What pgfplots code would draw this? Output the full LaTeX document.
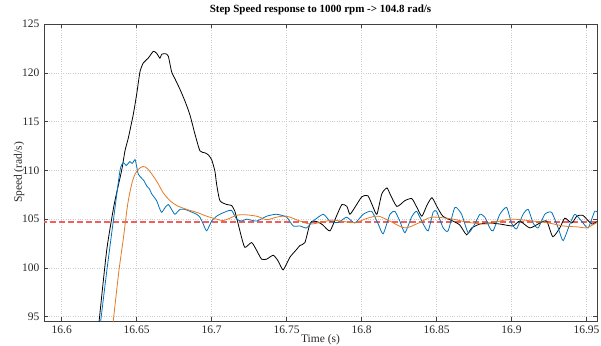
\documentclass[border=0pt]{standalone}
\usepackage{fontspec}
\setmainfont{Liberation Serif}
\usepackage{pgfplots}
\pgfplotsset{compat=1.18}
\definecolor{mblue}{RGB}{0,114,189}
\definecolor{morange}{RGB}{228,122,36}
\definecolor{mred}{RGB}{242,95,95}
\begin{document}
\begin{tikzpicture}
\useasboundingbox (-44pt,-24pt) rectangle (557pt,321pt);
\begin{axis}[
  at={(0,0)}, anchor=south west,
  scale only axis, width=553pt, height=297pt,
  xmin=16.5882, xmax=16.957, ymin=94.56, ymax=125,
  xtick={16.6,16.65,...,16.96}, ytick={95,100,...,125},
  xticklabels={16.6,16.65,16.7,16.75,16.8,16.85,16.9,16.95},
  /pgf/number format/assume math mode=true,
  tick align=inside, major tick length=4pt,
  tick style={color=black!75, line width=0.5pt},
  axis line style={color=black!75, line width=0.6pt},
  grid=major, grid style={color=gray!40, dotted, line width=0.5pt},
  tick label style={font=\fontsize{11.5}{13}\selectfont, color=black!85},
  yticklabel style={xshift=-1pt},
  xticklabel style={yshift=-1pt},
  title={\textbf{Step Speed response to 1000 rpm -> 104.8 rad/s}},
  title style={font=\fontsize{11}{13}\selectfont, at={(0.5,1)}, anchor=south, yshift=2pt, inner sep=1pt},
  xlabel={Time (s)}, ylabel={Speed (rad/s)},
  xlabel style={font=\fontsize{11.5}{13}\selectfont, at={(0.5,0)}, anchor=north, yshift=-13pt, inner sep=0pt, color=black!85},
  ylabel style={font=\fontsize{11.5}{13}\selectfont, at={(0,0.5)}, anchor=south, yshift=19.5pt, inner sep=0pt, color=black!85},
  clip=true,
]
% red reference line
\addplot[draw=mred, color=mred, line width=1.6pt, dash pattern=on 6pt off 3pt, mark=none] table {
x y
16.58 104.72
16.96 104.72
};
% black
\addplot[black, line width=0.8pt, smooth, tension=0.35] coordinates {
(16.6248,94.3) (16.6300,101.8) (16.6350,106.5) (16.6400,110.0) (16.6422,112.0) (16.6444,113.3) (16.6477,115.7) (16.6500,117.8)
(16.6522,120.1) (16.6544,121.0) (16.6577,121.5) (16.6611,122.2) (16.6633,122.0) (16.6655,121.5) (16.6667,121.9)
(16.6693,121.95) (16.6711,121.7) (16.6733,120.1) (16.6755,119.4) (16.6789,118.3) (16.6822,117.1) (16.6855,115.7)
(16.6889,113.7) (16.6922,112.0) (16.6955,111.8) (16.6977,111.6) (16.7000,111.1) (16.7022,109.9) (16.7033,108.6)
(16.7055,106.9) (16.7100,106.5) (16.7133,106.4) (16.7155,105.8) (16.7177,104.5) (16.7200,103.1) (16.7222,102.1)
(16.7267,102.6) (16.7300,101.8) (16.7333,100.9) (16.7367,100.9) (16.7411,101.3) (16.7444,100.7) (16.7477,99.8)
(16.7522,101.1) (16.7567,101.9) (16.7589,102.3) (16.7622,102.6) (16.7655,104.5) (16.7675,104.8) (16.7710,104.7) (16.7742,104.4)
(16.7789,103.8) (16.7835,105.4) (16.7869,106.5) (16.7902,106.3) (16.7922,105.5) (16.7955,106.2) (16.8002,107.3)
(16.8042,107.4) (16.8075,106.3) (16.8102,105.5) (16.8135,107.6) (16.8169,108.2) (16.8189,107.6) (16.8235,106.3)
(16.8289,106.9) (16.8335,107.1) (16.8369,106.2) (16.8402,105.3) (16.8435,106.4) (16.8469,107.2) (16.8502,106.3)
(16.8542,105.3) (16.8609,104.8) (16.8655,104.4) (16.8700,103.4) (16.8735,104.1) (16.8789,104.5) (16.8855,104.6)
(16.8922,104.5) (16.9009,104.3) (16.9055,104.8) (16.9122,104.1) (16.9189,104.6) (16.9235,104.8) (16.9275,103.2)
(16.9322,104.1) (16.9355,105.1) (16.9402,104.6) (16.9435,105.3) (16.9475,105.4) (16.9535,104.5) (16.9575,104.8)
};
% blue
\addplot[mblue, line width=0.8pt, smooth, tension=0.35] coordinates {
(16.6258,94.3) (16.6300,99.6) (16.6344,104.8) (16.6389,110.0) (16.6411,110.8) (16.6430,110.5) (16.6455,110.9) (16.6470,110.7)
(16.6489,111.1) (16.6500,110.4) (16.6511,109.6) (16.6533,109.2) (16.6550,108.9) (16.6567,108.4) (16.6585,108.1) (16.6600,107.6)
(16.6633,106.9) (16.6650,106.2) (16.6667,105.7) (16.6690,106.2) (16.6711,106.5) (16.6733,106.0) (16.6755,105.5)
(16.6789,106.0) (16.6822,106.0) (16.6855,105.8) (16.6900,105.5) (16.6922,105.2) (16.6944,104.5) (16.6967,103.8)
(16.7000,104.8) (16.7033,105.3) (16.7055,105.5) (16.7100,105.8) (16.7133,105.9) (16.7167,105.0) (16.7200,104.8) (16.7233,105.0)
(16.7300,104.8) (16.7367,105.3) (16.7433,105.5) (16.7500,105.2) (16.7544,104.3) (16.7589,104.3) (16.7633,104.1)
(16.7677,104.8) (16.7744,105.5) (16.7789,104.8) (16.7844,104.65) (16.7900,105.2) (16.7955,104.6) (16.8011,105.5)
(16.8067,105.8) (16.8111,104.5) (16.8144,103.5) (16.8189,105.5) (16.8222,105.8) (16.8255,104.8) (16.8289,103.6)
(16.8333,105.2) (16.8367,105.8) (16.8411,104.5) (16.8444,103.8) (16.8477,105.7) (16.8500,105.8) (16.8544,104.1)
(16.8577,103.8) (16.8622,106.2) (16.8667,105.5) (16.8711,103.6) (16.8755,104.5) (16.8789,105.5) (16.8822,105.2)
(16.8855,104.1) (16.8877,103.8) (16.8922,105.5) (16.8967,106.2) (16.9000,104.6) (16.9033,104.0) (16.9077,105.5)
(16.9111,106.0) (16.9144,104.6) (16.9177,104.1) (16.9222,105.5) (16.9267,105.7) (16.9311,104.1) (16.9344,102.8)
(16.9389,104.5) (16.9422,105.5) (16.9467,104.8) (16.9511,104.1) (16.9555,105.8) (16.9589,105.5)
};
% orange
\addplot[morange, line width=0.8pt, smooth, tension=0.5] coordinates {
(16.6342,94.3) (16.6380,99.5) (16.6411,103.0) (16.6440,106.5) (16.6467,108.6) (16.6489,109.6) (16.6511,110.1)
(16.6544,110.4) (16.6577,110.1) (16.6633,108.9) (16.6677,107.7) (16.6722,106.9) (16.6767,106.4) (16.6833,106.0)
(16.6900,105.7) (16.6967,105.3) (16.7033,105.0) (16.7077,104.85) (16.7122,105.1) (16.7167,105.4) (16.7222,105.45)
(16.7300,105.3) (16.7367,104.95) (16.7433,105.2) (16.7500,105.3) (16.7589,104.8) (16.7655,104.5) (16.7722,104.65)
(16.7800,104.9) (16.7860,104.8) (16.7955,104.65) (16.8040,105.1) (16.8113,105.3) (16.8200,104.7) (16.8289,104.1)
(16.8380,104.6) (16.8469,105.2) (16.8609,105.0) (16.8700,104.7) (16.8833,104.5) (16.8950,104.9) (16.9011,105.0)
(16.9144,104.8) (16.9250,104.6) (16.9344,104.3) (16.9444,104.2) (16.9500,104.1) (16.9540,104.4) (16.9589,104.8)
};
\end{axis}
\end{tikzpicture}
\end{document}
